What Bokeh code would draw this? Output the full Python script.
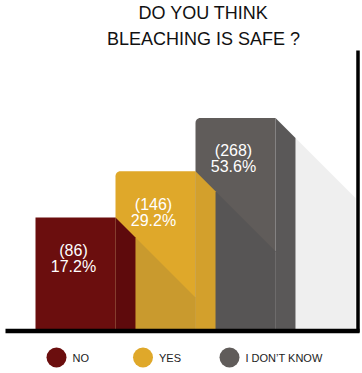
import numpy as np
from bokeh.plotting import figure
from bokeh.models import Range1d, LogScale
from bokeh.embed import file_html
from bokeh.resources import INLINE
from bokeh.core.properties import value

# ---------------- data ----------------
categories = ["NO", "YES", "I DON\u2019T KNOW"]
counts = [86, 146, 268]
percents = [17.2, 29.2, 53.6]
title_lines = ["DO YOU THINK", "BLEACHING IS SAFE ?"]

# ---------------- styles ----------------
front_colors = ["#6b0e0e", "#dfa82a", "#605c5a"]
side_colors = ["#5e0a0c", "#d3a02c", "#5a5858"]
shade_colors = [None, "#c99a2e", "#575555"]   # shadow cast on a bar by its left neighbour
corner_r = [0, 5, 5]
FONT = value("Liberation Sans")

W, H = 362, 372                  # frame covers page x 0..362, y 0..372
V_LO, V_HI = 14.66, 1024.0       # log value range of the (hidden) axis
K = H / np.log(V_HI / V_LO)      # pixels per ln unit


def shift(v, px):
    """move a value up by px screen pixels on the log axis"""
    return v * np.exp(px / K)


BASE = shift(V_LO, 42)           # baseline value
BAR_L0, BAR_STEP, FRONT_W, SIDE_W = 35, 80, 80, 20
SHADOW_END_X = 355

p = figure(width=W, height=H, x_range=Range1d(0, W), y_range=Range1d(H, 0),
           output_backend="svg", toolbar_location=None,
           x_axis_location=None, y_axis_location=None, min_border=0,
           outline_line_color=None, background_fill_color="white",
           border_fill_color="white")
p.extra_y_ranges = {"val": Range1d(V_LO, V_HI)}
p.extra_y_scales = {"val": LogScale()}
p.grid.visible = False

n = len(counts)
L = [BAR_L0 + i * BAR_STEP for i in range(n)]
R1 = [l + FRONT_W for l in L]
R2 = [r + SIDE_W for r in R1]
tops = [float(c) for c in counts]
chamf = [shift(t, -SIDE_W) for t in tops]

# long shadow of the last (tallest) bar on the background
i = n - 1
dx = SHADOW_END_X - R2[i]
p.patch([R2[i], SHADOW_END_X, SHADOW_END_X, R2[i]],
        [chamf[i], shift(chamf[i], -dx), BASE, BASE],
        y_range_name="val", fill_color="#efefef", line_color=None)

for i in reversed(range(n)):
    # front face with optional rounded top-left corner
    r = corner_r[i]
    xs, ys = [], []
    if r > 0:
        th = np.linspace(np.pi, np.pi / 2, 8)
        xs += list(L[i] + r + r * np.cos(th))
        ys += [shift(tops[i], -(r - r * np.sin(t))) for t in th]
    else:
        xs.append(L[i]); ys.append(tops[i])
    xs += [R1[i], R1[i], L[i]]
    ys += [tops[i], BASE, BASE]
    p.patch(xs, ys, y_range_name="val", fill_color=front_colors[i], line_color=None)
    # side face with chamfered top
    p.patch([R1[i], R2[i], R2[i], R1[i]], [tops[i], chamf[i], BASE, BASE],
            y_range_name="val", fill_color=side_colors[i], line_color=None)
    # shadow of the left neighbour on this bar's front
    if i > 0:
        j = i - 1
        d = R1[i] - R2[j]
        p.patch([R2[j], R1[i], R1[i], R2[j]],
                [chamf[j], shift(chamf[j], -d), BASE, BASE],
                y_range_name="val", fill_color=shade_colors[i], line_color=None)

# value labels
cx = [l + FRONT_W / 2 - 2 for l in L]
p.text(x=cx, y=[shift(t, -33) for t in tops], text=[f"({c})" for c in counts],
       y_range_name="val", text_font=FONT, text_font_size="16px",
       text_color="white", text_align="center", text_baseline="middle")
p.text(x=cx, y=[shift(t, -49) for t in tops], text=[f"{v:.1f}%" for v in percents],
       y_range_name="val", text_font=FONT, text_font_size="16px",
       text_color="white", text_align="center", text_baseline="middle")

# axis-like frame lines
p.line([5, 359], [330.5, 330.5], line_color="black", line_width=4.5)
p.line([357.5, 357.5], [50, 332], line_color="black", line_width=3.5)

# title
p.text(x=[203, 203], y=[12, 38.5], text=title_lines, text_font=FONT,
       text_font_size="18px", text_color="#111111", text_align="center",
       text_baseline="middle")

# legend
LEG_X0, LEG_STEP, LEG_Y = 56, 86.5, 357
lx = [LEG_X0 + i * LEG_STEP for i in range(n)]
p.scatter(lx, [LEG_Y] * n, size=20, marker="circle", fill_color=front_colors,
          line_color=None)
p.text(x=[x + 16 for x in lx], y=[LEG_Y] * n, text=categories, text_font=FONT,
       text_font_size="11px", text_color="#222222", text_align="left",
       text_baseline="middle")

open("out.html", "w").write(file_html(p, INLINE))
